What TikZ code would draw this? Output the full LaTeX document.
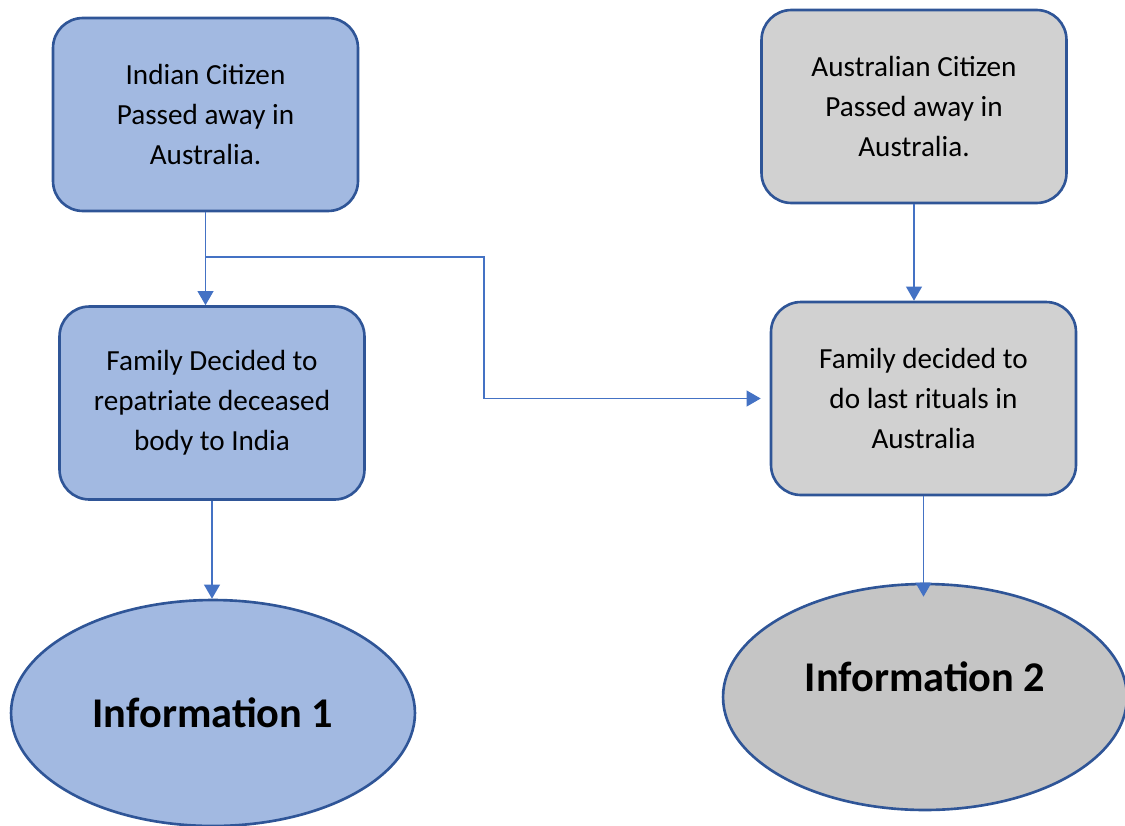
\documentclass[tikz,border=0pt]{standalone}
\usepackage{fontspec}
\setmainfont{Carlito}
\usetikzlibrary{arrows.meta,shapes.geometric}

\definecolor{blaufill}{RGB}{162,185,225}
\definecolor{graufill}{RGB}{209,209,209}
\definecolor{grauoval}{RGB}{197,197,197}
\definecolor{rand}{RGB}{47,85,151}
\definecolor{linie}{RGB}{68,114,196}

\begin{document}
\begin{tikzpicture}[%
        x=0.02cm, y=-0.02cm,
        kasten/.style={draw=rand, line width=1.5pt, rounded corners=17pt,
            minimum width=6.1cm, minimum height=3.86cm, inner sep=0pt,
            align=center, font=\fontsize{16.6}{22.7}\selectfont},
        oval/.style={ellipse, draw=rand, line width=1.5pt, inner sep=0pt,
            minimum width=8.08cm, minimum height=4.52cm,
            font=\bfseries\fontsize{24.1}{29}\selectfont},
        pfeil/.style={draw=linie, line width=0.85pt},
        >={Triangle[width=9pt,length=8pt]} % Pfeilspitzen
        ]
    \useasboundingbox (0,0) rectangle (1125,825);

    % Kaesten
    \node[kasten, fill=blaufill] (indisch) at (205.5,114.5)
        {Indian Citizen\\Passed away in\\Australia.};
    \node[kasten, fill=graufill] (austral) at (914,106.5)
        {Australian Citizen\\Passed away in\\Australia.};
    \node[kasten, fill=blaufill] (rueck) at (212,403)
        {Family Decided to\\repatriate deceased\\body to India};
    \node[kasten, fill=graufill] (riten) at (923.5,398.5)
        {Family decided to\\do last rituals in\\Australia};

    % Ovale
    \node[oval, fill=blaufill] (info1) at (213,713) {Information 1};
    \node[oval, fill=grauoval] (info2) at (925,697)
        {\raisebox{0.4cm}[\height][\depth]{Information 2}};

    % Verbindungen
    \coordinate (abzweig) at (indisch.south |- 0,257);
    \coordinate (knick) at (484,257);
    \draw[pfeil,->] (indisch.south) -- (indisch.south |- rueck.north);
    \draw[pfeil,->] (abzweig) -- (knick) |- ([xshift=-0.18cm]riten.west);
    \draw[pfeil,->] (austral.south) -- (austral.south |- riten.north);
    \draw[pfeil,->] (rueck.south) -- (rueck.south |- info1.north);
    \draw[pfeil,->,shorten >=-0.28cm] (riten.south) -- (riten.south |- info2.north);

\end{tikzpicture}
\end{document}
